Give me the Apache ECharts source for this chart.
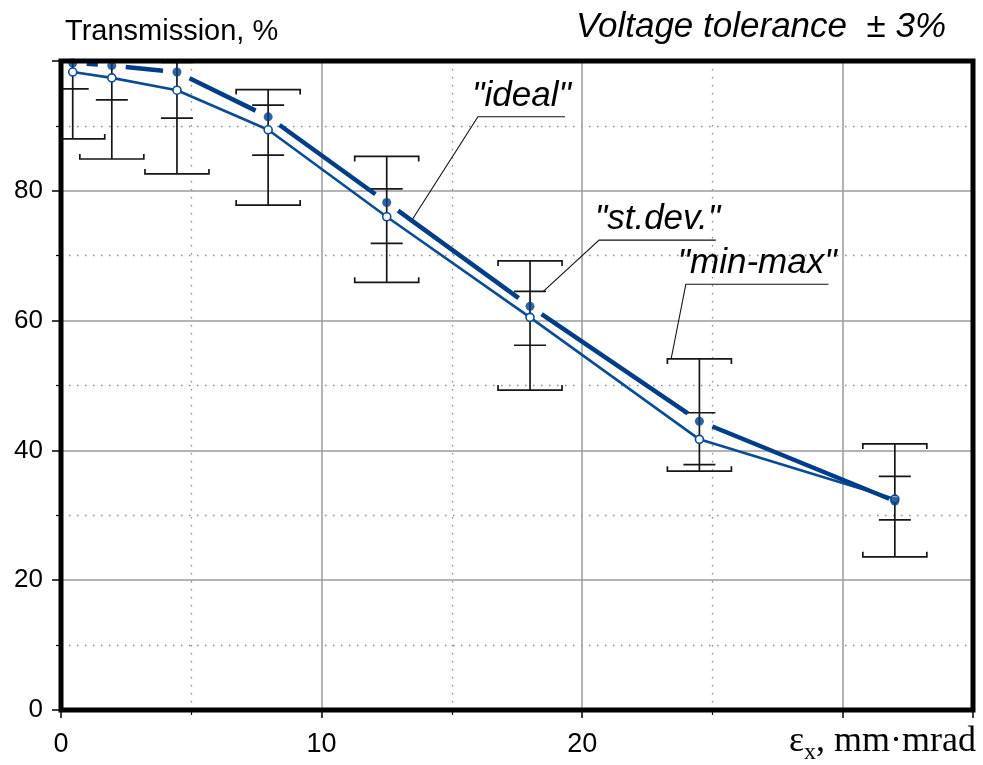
<!DOCTYPE html>
<html><head><meta charset="utf-8">
<script src="https://cdn.jsdelivr.net/npm/echarts@6/dist/echarts.min.js"></script>
<style>html,body{margin:0;padding:0;background:#fff}#c{width:983px;height:765px}</style>
</head><body><div id="c"></div>
<script>
// ---- data ----
const xPos      = [0.45, 1.95, 4.45, 7.95, 12.5, 18.0, 24.5, 32.0];
const idealVals = [99.7, 99.3, 98.3, 91.4, 78.2, 62.2, 44.5, 32.2];
const meanVals  = [98.3, 97.4, 95.5, 89.4, 76.0, 60.5, 41.7, 32.5];
const minVals   = [88.0, 84.9, 82.6, 77.8, 65.9, 49.3, 36.8, 23.6];
const maxVals   = [102.5, 102.5, 102.5, 95.6, 85.3, 69.2, 54.1, 41.0];
const sdLow     = [95.7, 94.0, 91.2, 85.5, 71.9, 56.2, 37.8, 29.3];
const sdHigh    = [100.9, 100.8, 99.8, 93.2, 80.3, 64.5, 45.8, 36.0];
const xTicks    = [0, 10, 20];
const yTicks    = [0, 20, 40, 60, 80];
// annotations: leader tip, elbow, end of underline (data coords)
const annoText  = ['"ideal"', '"st.dev."', '"min-max"'];
const annoTip   = [[13.5, 75.7], [18.51, 64.5], [23.42, 54.2]];
const annoElbow = [[16.0, 91.4], [20.65, 72.4], [23.98, 65.6]];
const annoEndX  = [19.34, 25.13, 29.45];

const BLUE = '#084c96';
const G = {left: 61, right: 10, top: 61, bottom: 55};
const W = 983, H = 765;
const chart = echarts.init(document.getElementById('c'), null, {renderer:'canvas'});

const idealPts = xPos.map((x,i)=>[x, idealVals[i]]);
const meanPts = xPos.map((x,i)=>[x, meanVals[i]]);
const segData = xPos.slice(0,-1).map((x,i)=>[x, idealVals[i], xPos[i+1], idealVals[i+1]]);
const errData = xPos.map((x,i)=>[x, minVals[i], maxVals[i], sdLow[i], sdHigh[i]]);
const annoData = annoText.map((t,i)=>[annoTip[i][0], annoTip[i][1], annoElbow[i][0], annoElbow[i][1], annoEndX[i]]);

// measure x-axis name pieces
const cv = document.createElement('canvas').getContext('2d');
const serif = '"Liberation Serif", "Times New Roman", serif';
const FS = 36, FSS = 24;
cv.font = FS + 'px ' + serif; const wTail = cv.measureText(', mm·mrad').width;
cv.font = FSS + 'px ' + serif; const wSub = cv.measureText('x').width;
cv.font = FS + 'px ' + serif; const wEps = cv.measureText('ε').width;
const nameRight = 976, nameBase = 752;

const option = {
  animation: false,
  backgroundColor: '#fff',
  grid: {left: G.left, right: G.right, top: G.top, bottom: G.bottom, containLabel: false},
  xAxis: {
    type: 'value', min: 0, max: 35, interval: 10,
    axisLine: {show: false},
    axisTick: {show: true, length: 8, lineStyle: {color: '#000', width: 1.5}},
    minorTick: {show: true, splitNumber: 2, length: 5, lineStyle: {color: '#000', width: 1.2}},
    axisLabel: {margin: 21, color: '#000', fontSize: 27, fontFamily: 'Liberation Sans',
      formatter: v => xTicks.includes(v) ? String(v) : ''},
    splitLine: {show: true, lineStyle: {color: '#9b9b9b', width: 1.5}},
    minorSplitLine: {show: true, lineStyle: {color: '#8a8a8a', width: 1.3, type: [1.5, 6.5]}}
  },
  yAxis: {
    type: 'value', min: 0, max: 100, interval: 20,
    axisLine: {show: false},
    axisTick: {show: true, length: 9, lineStyle: {color: '#000', width: 1.5}},
    minorTick: {show: true, splitNumber: 2, length: 5, lineStyle: {color: '#000', width: 1.2}},
    axisLabel: {margin: 18, color: '#000', fontSize: 26, fontFamily: 'Liberation Sans',
      formatter: v => yTicks.includes(v) ? String(v) : ''},
    splitLine: {show: true, lineStyle: {color: '#9b9b9b', width: 1.5}},
    minorSplitLine: {show: true, lineStyle: {color: '#8a8a8a', width: 1.3, type: [1.5, 6.5]}}
  },
  graphic: [
    {type: 'rect', z: 100, shape: {x: G.left, y: G.top, width: W - G.left - G.right, height: H - G.top - G.bottom},
      style: {fill: null, stroke: '#000', lineWidth: 5}},
    {type: 'text', left: 65, top: 17, style: {text: 'Transmission, %', font: '29px "Liberation Sans"', fill: '#000'}},
    {type: 'text', right: 37, top: 10, style: {text: 'Voltage tolerance  ± 3%', font: 'italic 35px "Liberation Sans"', fill: '#000'}},
    {type: 'text', x: nameRight - wTail, y: nameBase - 0.3 * FS, style: {text: ', mm·mrad', font: FS + 'px ' + serif, fill: '#000', verticalAlign: 'middle'}},
    {type: 'text', x: nameRight - wTail - wSub, y: nameBase + 8 - 0.3 * FSS, style: {text: 'x', font: FSS + 'px ' + serif, fill: '#000', verticalAlign: 'middle'}},
    {type: 'text', x: nameRight - wTail - wSub - wEps, y: nameBase - 0.3 * FS, style: {text: 'ε', font: FS + 'px ' + serif, fill: '#000', verticalAlign: 'middle'}}
  ],
  series: [
    { // error bars: min-max caps and st.dev ticks
      type: 'custom', clip: true, z: 2, data: errData,
      renderItem: (params, api) => {
        const x = api.value(0);
        const pLo = api.coord([x, api.value(1)]), pHi = api.coord([x, api.value(2)]);
        const pSl = api.coord([x, api.value(3)]), pSh = api.coord([x, api.value(4)]);
        const cx = pLo[0], cw = 32, tw = 16, tip = 5;
        const st = {stroke: '#161616', lineWidth: 1.7, fill: null};
        return {type: 'group', children: [
          {type: 'line', shape: {x1: cx, y1: pHi[1], x2: cx, y2: pLo[1]}, style: st},
          {type: 'polyline', shape: {points: [[cx-cw, pHi[1]+tip], [cx-cw, pHi[1]], [cx+cw, pHi[1]], [cx+cw, pHi[1]+tip]]}, style: st},
          {type: 'polyline', shape: {points: [[cx-cw, pLo[1]-tip], [cx-cw, pLo[1]], [cx+cw, pLo[1]], [cx+cw, pLo[1]-tip]]}, style: st},
          {type: 'line', shape: {x1: cx-tw, y1: pSl[1], x2: cx+tw, y2: pSl[1]}, style: st},
          {type: 'line', shape: {x1: cx-tw, y1: pSh[1], x2: cx+tw, y2: pSh[1]}, style: st}
        ]};
      }
    },
    { // mean line with open circles
      type: 'line', data: meanPts, z: 4, clip: false,
      symbol: 'circle', symbolSize: 8, showAllSymbol: true,
      lineStyle: {color: BLUE, width: 2.6},
      itemStyle: {color: '#fff', borderColor: BLUE, borderWidth: 1.6}
    },
    { // ideal: thick segments with gaps at the points
      type: 'custom', clip: false, z: 5, data: segData,
      renderItem: (params, api) => {
        const p1 = api.coord([api.value(0), api.value(1)]), p2 = api.coord([api.value(2), api.value(3)]);
        const dx = p2[0]-p1[0], dy = p2[1]-p1[1], L = Math.hypot(dx, dy), g = 14;
        const ux = dx/L, uy = dy/L;
        const last = params.dataIndex === segData.length - 1;
        const g2 = last ? 6 : g;
        return {type: 'line', shape: {x1: p1[0]+ux*g, y1: p1[1]+uy*g, x2: p2[0]-ux*g2, y2: p2[1]-uy*g2},
          style: {stroke: '#003d88', lineWidth: 4.5, lineCap: 'butt'}};
      }
    },
    { // ideal points
      type: 'scatter', data: idealPts, z: 6, clip: false, symbol: 'circle', symbolSize: 9,
      itemStyle: {color: '#003d88'}
    },
    { // annotation leaders and labels
      type: 'custom', clip: false, z: 7, data: annoData, silent: true,
      renderItem: (params, api) => {
        const t = api.coord([api.value(0), api.value(1)]);
        const e = api.coord([api.value(2), api.value(3)]);
        const endX = api.coord([api.value(4), api.value(3)])[0];
        return {type: 'group', children: [
          {type: 'polyline', shape: {points: [t, e, [endX, e[1]]]}, style: {stroke: '#111', lineWidth: 1.1, fill: null}},
          {type: 'text', x: (e[0]+endX)/2, y: e[1]-3, style: {text: annoText[params.dataIndex],
            font: 'italic 35px "Liberation Sans"', fill: '#000', textAlign: 'center', textVerticalAlign: 'bottom'}}
        ]};
      }
    }
  ]
};
chart.setOption(option);
</script>
</body></html>
